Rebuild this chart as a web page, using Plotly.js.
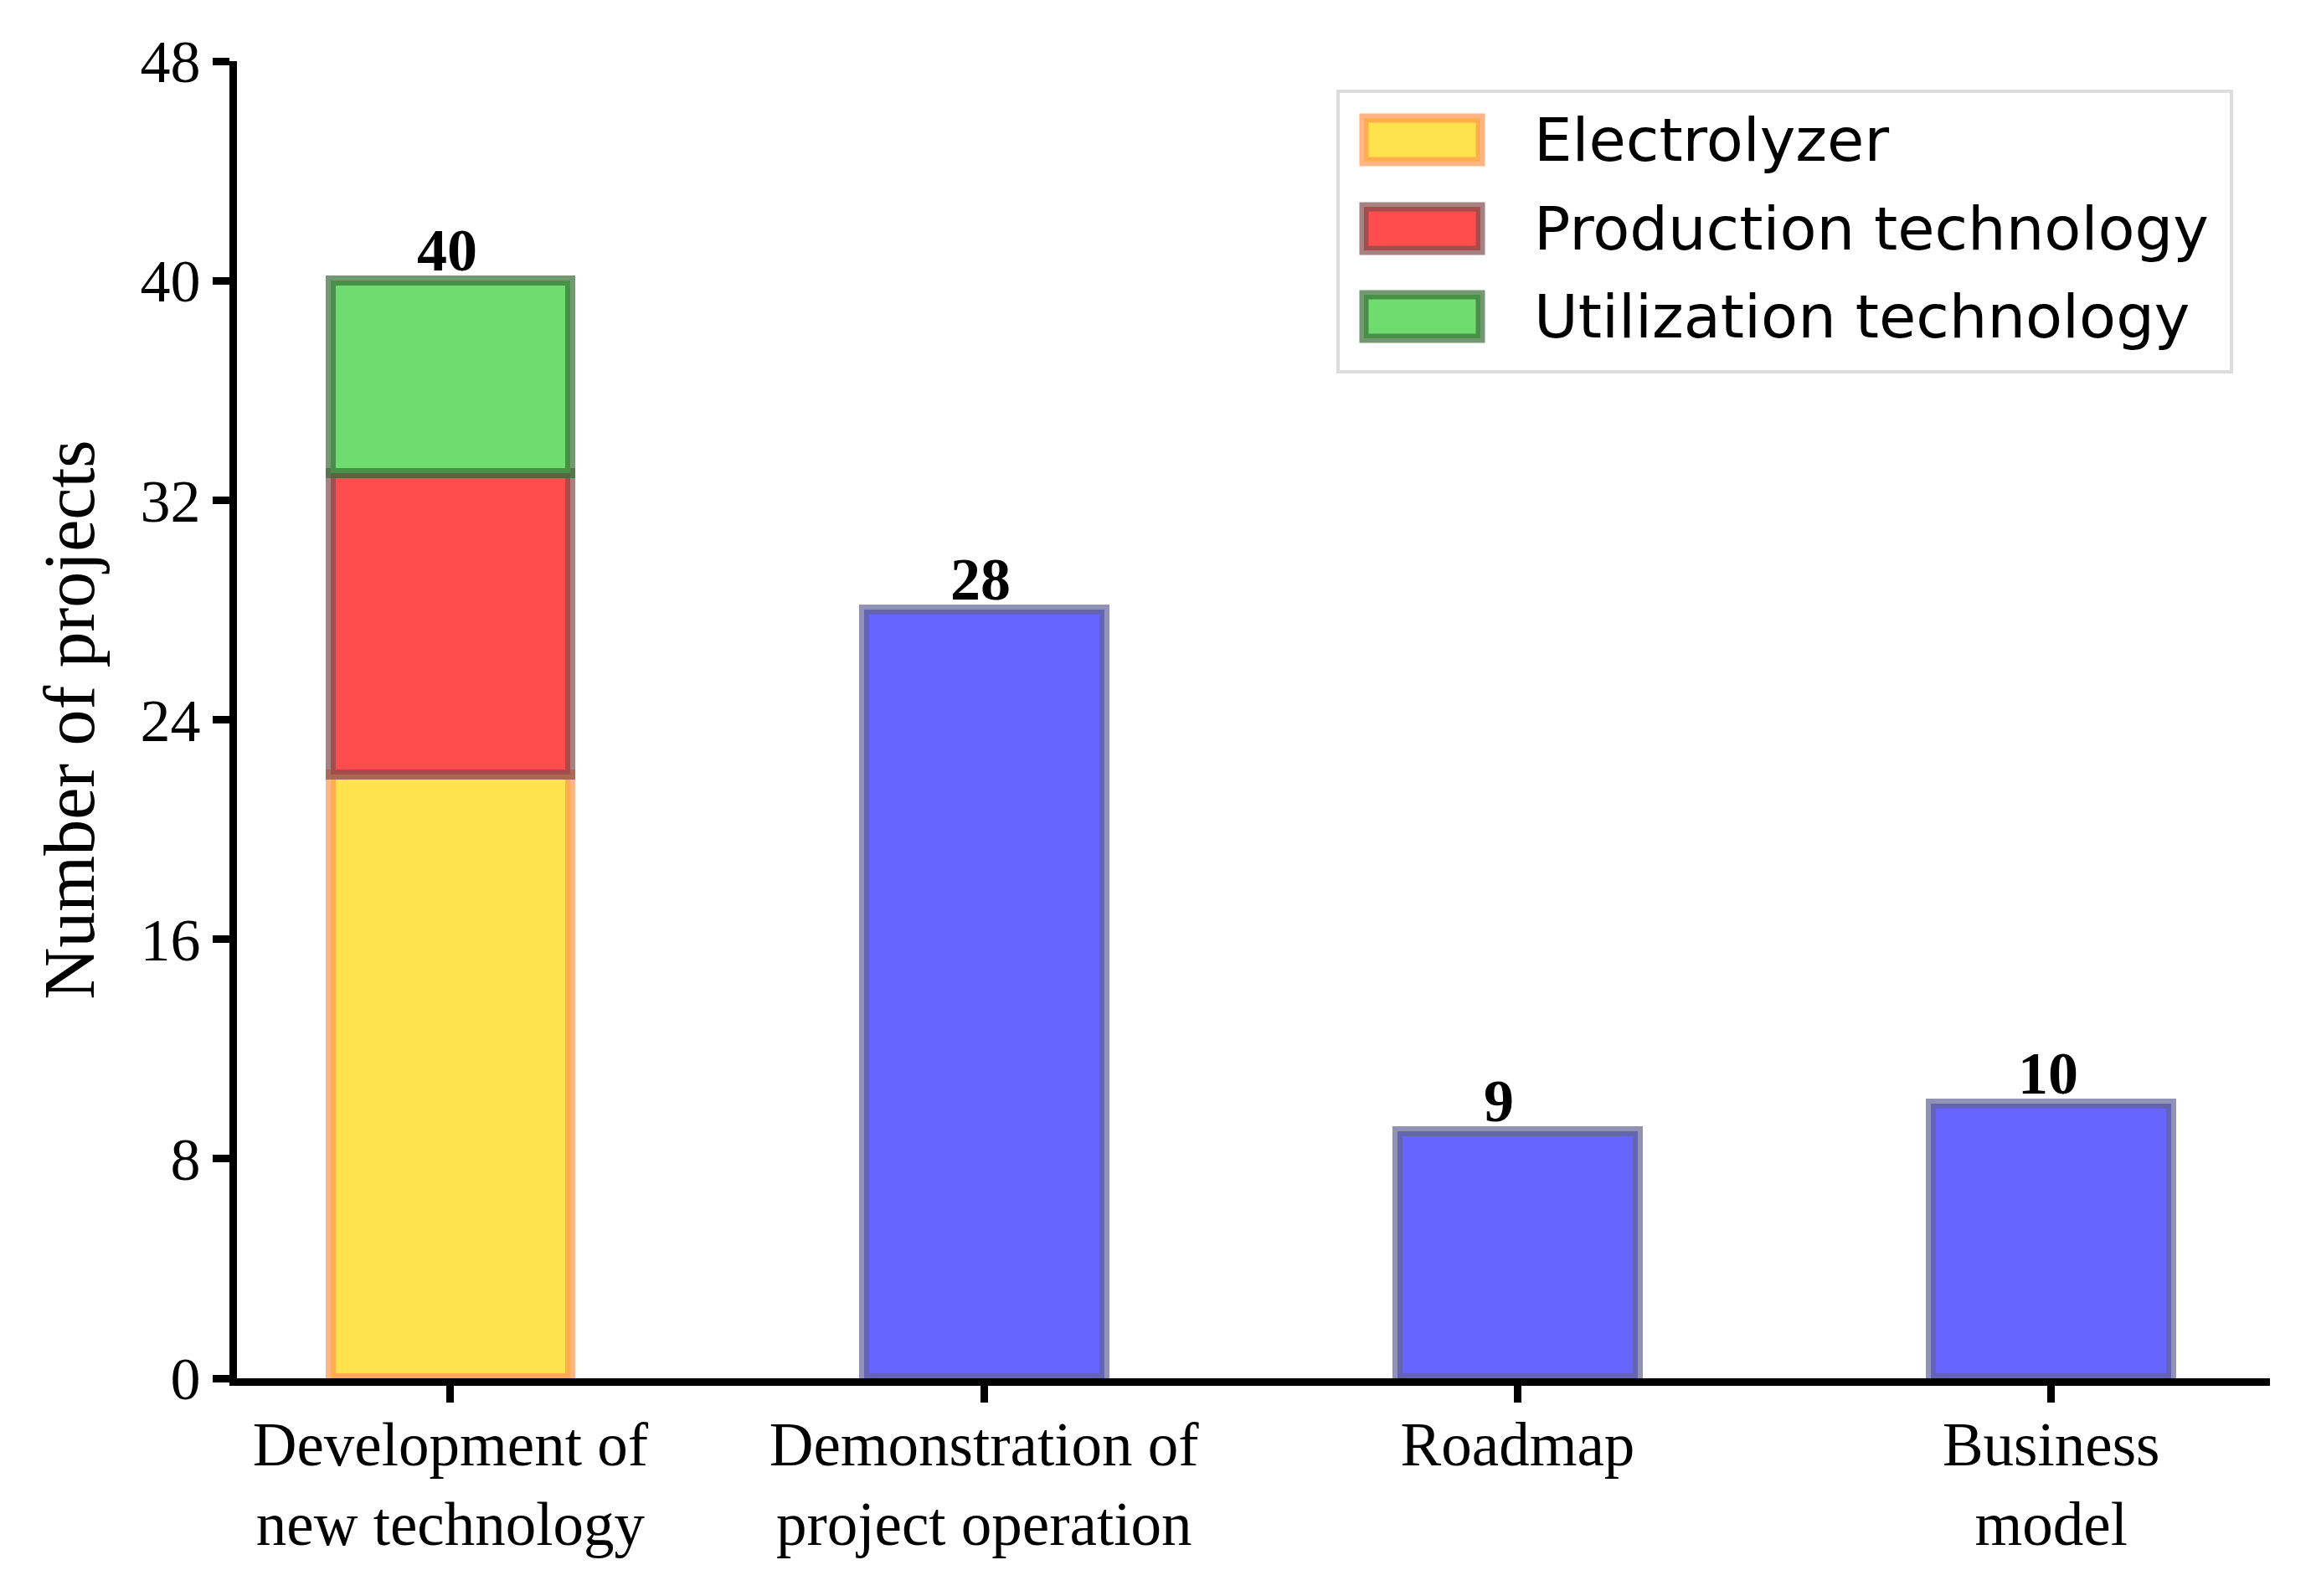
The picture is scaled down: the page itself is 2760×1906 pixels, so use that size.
<!DOCTYPE html>
<html>
<head>
<meta charset="utf-8">
<script src="https://cdn.plot.ly/plotly-3.0.1.min.js"></script>
<style>html,body{margin:0;padding:0;background:#fff;}#chart{width:2760px;height:1906px;}</style>
</head>
<body>
<div id="chart"></div>
<script>
// ---- data ----
const categories = ["Development of<br>new technology", "Demonstration of<br>project operation", "Roadmap", "Business<br>model"];
const electrolyzer = [22, null, null, null];
const production = [11, null, null, null];
const utilization = [7, null, null, null];
const otherProjects = [null, 28, 9, 10];
const seriesNames = ["Electrolyzer", "Production technology", "Utilization technology"];
const yTicks = [0, 8, 16, 24, 32, 40, 48];

// ---- styles ----
const fills = ["rgb(255,227,76)", "rgb(255,76,76)", "rgb(111,220,111)", "rgb(102,102,255)"];
const edges = ["rgba(255,150,80,0.7)", "rgba(130,77,77,0.7)", "rgba(55,110,55,0.7)", "rgba(100,100,150,0.7)"];
const W = 2760, H = 1906;
const L = 283, R = 2711, T = 73, B = 1646;
const serif = "Liberation Serif";
const sans = "DejaVu Sans";
const barWidth = 0.45, edgeWidth = 12;

const seriesData = [electrolyzer, production, utilization, otherProjects];
const traces = seriesData.map((vals, k) => ({
  type: "bar",
  x: categories,
  y: vals,
  name: k < 3 ? seriesNames[k] : "Other",
  width: barWidth,
  marker: {color: fills[k], line: {color: edges[k], width: edgeWidth}},
  showlegend: false,
  hoverinfo: "skip"
}));

const totals = categories.map((c, i) => seriesData.reduce((s, arr) => s + (arr[i] || 0), 0));

const annotations = categories.map((c, i) => ({
  x: c, y: totals[i], xref: "x", yref: "y",
  text: String(totals[i]), showarrow: false,
  xanchor: "left", yanchor: "bottom", xshift: -42, yshift: -6,
  font: {family: serif, size: 72, color: "#000", weight: "bold"}
}));

// custom legend (paper coords)
const px2x = p => (p - L) / (R - L);
const py2y = p => (B - p) / (B - T);
const shapes = [{
  type: "rect", xref: "paper", yref: "paper",
  x0: px2x(1598), x1: px2x(2665), y0: py2y(444), y1: py2y(109),
  fillcolor: "rgba(255,255,255,0.8)", line: {color: "rgb(220,220,220)", width: 4}
}];
const legendCenters = [167, 273, 378];
seriesNames.forEach((name, k) => {
  const cy = legendCenters[k];
  shapes.push({
    type: "rect", xref: "paper", yref: "paper",
    x0: px2x(1629), x1: px2x(1768), y0: py2y(cy + 26), y1: py2y(cy - 26),
    fillcolor: fills[k], line: {color: edges[k], width: 11}
  });
  annotations.push({
    x: px2x(1830), y: py2y(cy), xref: "paper", yref: "paper",
    text: name, showarrow: false, xanchor: "left", yanchor: "middle",
    font: {family: sans, size: 72, color: "#000"}
  });
});

const layout = {
  width: W, height: H, autosize: false,
  margin: {l: L, r: W - R, t: T, b: H - B, pad: 0},
  paper_bgcolor: "#fff", plot_bgcolor: "#fff",
  barmode: "stack",
  showlegend: false,
  xaxis: {
    type: "category", range: [-0.4, 3.41],
    showline: true, linecolor: "#000", linewidth: 9,
    ticks: "outside", ticklen: 20, tickwidth: 9, tickcolor: "#000",
    showgrid: false, zeroline: false,
    ticklabelstandoff: -13,
    tickfont: {family: serif, size: 73, color: "#000"}
  },
  yaxis: {
    range: [0, 48], tickvals: yTicks, ticktext: yTicks.map(String),
    showline: true, linecolor: "#000", linewidth: 9,
    ticks: "outside", ticklen: 20, tickwidth: 9, tickcolor: "#000",
    showgrid: false, zeroline: false,
    tickfont: {family: serif, size: 72, color: "#000"},
    title: {text: "Number of projects", font: {family: serif, size: 86, color: "#000"}, standoff: 30}
  },
  annotations: annotations,
  shapes: shapes
};

Plotly.newPlot("chart", traces, layout, {displayModeBar: false, staticPlot: true});
</script>
</body>
</html>
